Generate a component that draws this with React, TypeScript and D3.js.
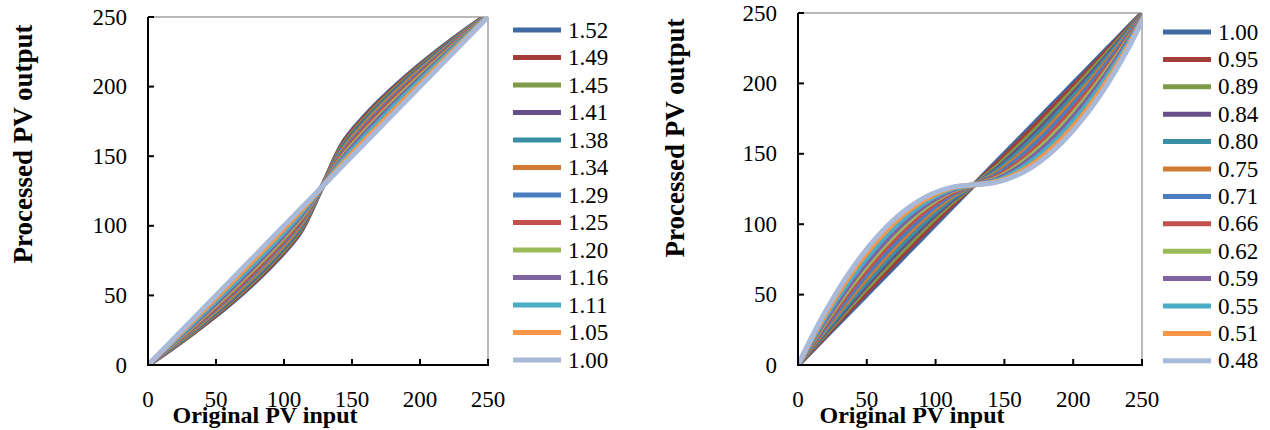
import React from "react";
import * as d3 from "d3";

// legend values (exponents) for each panel
const leftGammas = [1.52, 1.49, 1.45, 1.41, 1.38, 1.34, 1.29, 1.25, 1.2, 1.16, 1.11, 1.05, 1.0];
const rightGammas = [1.0, 0.95, 0.89, 0.84, 0.8, 0.75, 0.71, 0.66, 0.62, 0.59, 0.55, 0.51, 0.48];
const seriesColors = [
  "#3F6AA1", "#A23D3A", "#7F9B47", "#674F8A", "#3A8FA4", "#D07A33",
  "#4A7EC0", "#C4504D", "#9BBB59", "#8064A2", "#4BACC6", "#F79646", "#A9B9DA",
];
const tickValues = [0, 50, 100, 150, 200, 250];
const xTitle = "Original PV input";
const yTitle = "Processed PV output";

const FONT = "'Liberation Serif', 'Times New Roman', serif";
const MID = 128;
// PV inputs the curves are sampled at (smoothed line between them)
const inputs = d3.range(0, 257, 16);

// transfer curve: distance from mid grey raised to 1/g
function transfer(x: number, g: number) {
  const t = (x - MID) / MID;
  return MID + MID * Math.sign(t) * Math.pow(Math.abs(t), 1 / g);
}

function Panel({ id, gammas, x0, x1, y0, y1, legendX, legendY, legendStep, xTitleX, yTitleX, yTitleY }) {
  const x = d3.scaleLinear().domain([0, 250]).range([x0, x1]);
  const y = d3.scaleLinear().domain([0, 250]).range([y1, y0]);

  return (
    <g>
      <defs>
        <clipPath id={id}>
          <rect x={x0} y={y0} width={x1 - x0} height={y1 - y0} />
        </clipPath>
      </defs>
      <line x1={x0} y1={y0} x2={x1} y2={y0} stroke="#b8b8b8" strokeWidth={2} />
      <line x1={x1} y1={y0} x2={x1} y2={y1} stroke="#b8b8b8" strokeWidth={2} />
      <g clipPath={`url(#${id})`}>
        {gammas.map((g, i) => {
          const path = d3
            .line<number>()
            .x(d => x(d))
            .y(d => y(transfer(d, g)))
            .curve(d3.curveCatmullRom)(inputs);
          return (
            <path key={i} d={path} fill="none" stroke={seriesColors[i]} strokeWidth={5} strokeLinejoin="round" />
          );
        })}
      </g>
      <line x1={x0} y1={y0} x2={x0} y2={y1} stroke="#000" strokeWidth={2} />
      <line x1={x0 - 1} y1={y1} x2={x1 + 1} y2={y1} stroke="#000" strokeWidth={2} />
      {tickValues.map(v => (
        <g key={"t" + v}>
          {v > 0 && <line x1={x(v)} y1={y1} x2={x(v)} y2={y1 - 6} stroke="#000" strokeWidth={2} />}
          {v > 0 && <line x1={x0} y1={y(v)} x2={x0 + 6} y2={y(v)} stroke="#000" strokeWidth={2} />}
          <text x={x(v)} y={y1 + 34} textAnchor="middle" dominantBaseline="central" fontSize={23} fontFamily={FONT}>
            {v}
          </text>
          <text x={x0 - 21} y={y(v)} textAnchor="end" dominantBaseline="central" fontSize={23} fontFamily={FONT}>
            {v}
          </text>
        </g>
      ))}
      <text x={xTitleX} y={415} textAnchor="middle" dominantBaseline="central" fontSize={24} fontWeight="bold" fontFamily={FONT}>
        {xTitle}
      </text>
      <text
        transform={`translate(${yTitleX},${yTitleY}) rotate(-90)`}
        textAnchor="middle"
        dominantBaseline="central"
        fontSize={27}
        fontWeight="bold"
        fontFamily={FONT}
      >
        {yTitle}
      </text>
      {gammas.map((g, i) => (
        <g key={"l" + i}>
          <line
            x1={legendX}
            x2={legendX + 48}
            y1={legendY + i * legendStep}
            y2={legendY + i * legendStep}
            stroke={seriesColors[i]}
            strokeWidth={5}
          />
          <text x={legendX + 55} y={legendY + i * legendStep} dominantBaseline="central" fontSize={23} fontFamily={FONT}>
            {g.toFixed(2)}
          </text>
        </g>
      ))}
    </g>
  );
}

export default function App() {
  return (
    <svg width={1270} height={430} style={{ position: "absolute", left: 0, top: 0, background: "#fff" }}>
      <Panel
        id="clipL"
        gammas={leftGammas}
        x0={148}
        x1={488}
        y0={17}
        y1={365}
        legendX={513}
        legendY={30}
        legendStep={27.5}
        xTitleX={265}
        yTitleX={23}
        yTitleY={144}
      />
      <Panel
        id="clipR"
        gammas={rightGammas}
        x0={798}
        x1={1142}
        y0={13}
        y1={365}
        legendX={1163}
        legendY={32}
        legendStep={27.4}
        xTitleX={912}
        yTitleX={675}
        yTitleY={138}
      />
    </svg>
  );
}
